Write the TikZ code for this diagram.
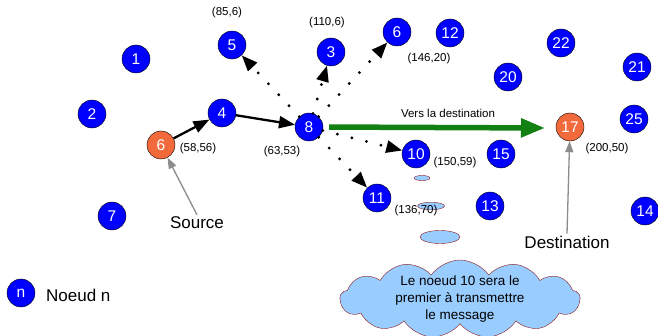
\documentclass[tikz,border=0pt]{standalone}
\usepackage{fontspec}
\setmainfont{Liberation Sans}
\usetikzlibrary{arrows.meta,shapes.symbols}
\definecolor{CBlue}{HTML}{0000FF}
\definecolor{COrange}{HTML}{F26A3C}
\definecolor{CGreen}{HTML}{138013}
\definecolor{CGray}{HTML}{8C8C8C}
\definecolor{CCloud}{HTML}{99CCFF}
\definecolor{CRim}{HTML}{8B1A1A}

\tikzset{
  nd/.style={circle, draw=black, thin, fill=CBlue, text=white, minimum size=28pt,
    inner sep=0pt, font=\fontsize{15.5}{15}\selectfont},
  ndsrc/.style={nd, fill=COrange},
  coordlbl/.style={font=\fontsize{11.5}{12}\selectfont, inner sep=1pt},
  biglbl/.style={font=\fontsize{17}{17}\selectfont, inner sep=2pt},
  hop/.style={line width=2.3pt, -{Triangle[length=16pt,width=12pt]}},
  probe/.style={line width=3.2pt, line cap=round, dash pattern=on 0pt off 15pt,
    -{Triangle[length=16pt,width=12pt]}},
  pointer/.style={CGray, line width=1.3pt, -{Triangle[length=11pt,width=8pt]}},
  bubble/.style={draw=CRim, fill=CCloud, thin}
}

\begin{document}
\begin{tikzpicture}[x=1pt, y=-1pt]
  \useasboundingbox (0,0) rectangle (658,336);

  % ============================================
  % Thought bubbles + cloud
  % ============================================
  \draw[bubble] (422,178) ellipse (8 and 2.5);
  \draw[bubble] (431,206) ellipse (13.5 and 3.8);
  \draw[bubble] (440,237) ellipse (20 and 6.5);
  \node[cloud, cloud puffs=13, cloud puff arc=110, cloud ignores aspect, bubble,
    minimum width=240pt, minimum height=78pt, inner sep=0pt] (msg) at (460,299) {};
  \node[align=center, font=\fontsize{13.5}{17}\selectfont] (msgtxt) at (msg.center)
    {Le noeud 10 sera le\\premier à transmettre\\le message};

  % ============================================
  % Nodes of the network
  % ============================================
  \foreach \n/\x/\y in {1/136/59, 2/92/114, 3/331/52, 4/222/113, 5/232/45,
      6/397/32, 7/112/216, 8/309/127, 10/416/154, 11/377/198, 12/450/33,
      13/490/206, 14/645/211, 15/501/154, 20/508/77, 21/637/67, 22/561/43,
      25/634/119} {
    \node[nd] (n\n) at (\x,\y) {\n};
  }
  % source and destination
  \node[ndsrc] (src) at (161,145) {6};
  \node[ndsrc] (dst) at (570,127) {17};

  % Coordinates
  \node[coordlbl] (c5) at (227,13) {(85,6)};
  \node[coordlbl] (c3) at (327,23) {(110,6)};
  \node[coordlbl] (c6) at (429,59) {(146,20)};
  \node[coordlbl] (csrc) at (198,149) {(58,56)};
  \node[coordlbl] (c8) at (282,152) {(63,53)};
  \node[coordlbl] (c10) at (455,163) {(150,59)};
  \node[coordlbl] (cdst) at (607,149) {(200,50)};
  \node[coordlbl] (c11) at (416,211) {(136,70)};

  % ============================================
  % Route and probes
  % ============================================
  \draw[hop] (src) -- (n4);
  \draw[hop] (n4) -- (n8);

  \foreach \t in {5,3,6,10,11} {
    \draw[probe] (n8) -- (n\t);
  }

  % Direction towards destination
  \coordinate (tip) at (545,128);
  \draw[CGreen, line width=5.5pt, shorten <=6pt,
    -{Triangle[length=24pt,width=18pt]}] (n8.east) -- (tip);
  \node[font=\fontsize{11.5}{12}\selectfont] (dir) at (448,113) {Vers la destination};

  % Labels
  \node[biglbl] (lsrc) at (197,223) {Source};
  \node[biglbl] (ldst) at (567,242) {Destination};
  \draw[pointer] (lsrc.north) -- (src);
  \draw[pointer] (ldst.north) -- (dst);

  % Legend
  \node[nd] (key) at (21,293) {n};
  \node[biglbl, anchor=west] (keytxt) at (44,295) {Noeud n};

\end{tikzpicture}
\end{document}
